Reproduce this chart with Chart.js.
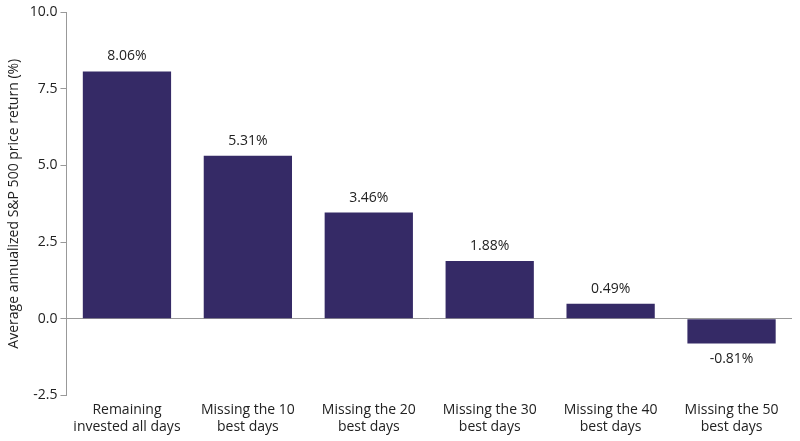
<!DOCTYPE html>
<html>
<head>
<script src="https://cdn.jsdelivr.net/npm/chart.js@4/dist/chart.umd.min.js"></script>
<style>
  body { margin: 0; background: #fff; }
  #wrap { width: 800px; height: 441px; }
</style>
</head>
<body>
<div id="wrap"><canvas id="returnsChart"></canvas></div>
<script>
const categories = [
  ["Remaining", "invested all days"],
  ["Missing the 10", "best days"],
  ["Missing the 20", "best days"],
  ["Missing the 30", "best days"],
  ["Missing the 40", "best days"],
  ["Missing the 50", "best days"],
];
const returns = [8.06, 5.31, 3.46, 1.88, 0.49, -0.81];
const barColor = "#352a66";

// draws value labels above (or below) each bar
const valueLabels = {
  id: "valueLabels",
  afterDatasetsDraw(chart) {
    const ctx = chart.ctx;
    const meta = chart.getDatasetMeta(0);
    ctx.save();
    ctx.font = "14px 'Open Sans', sans-serif";
    ctx.fillStyle = "#222";
    ctx.textAlign = "center";
    meta.data.forEach((bar, i) => {
      const v = returns[i];
      const txt = v.toFixed(2) + "%";
      if (v >= 0) {
        ctx.textBaseline = "bottom";
        ctx.fillText(txt, bar.x, bar.y - 8);
      } else {
        ctx.textBaseline = "top";
        ctx.fillText(txt, bar.x, bar.y + 8);
      }
    });
    ctx.restore();
  },
};

new Chart(document.getElementById("returnsChart"), {
  type: "bar",
  data: {
    labels: categories,
    datasets: [
      {
        data: returns,
        backgroundColor: barColor,
        categoryPercentage: 0.73,
        barPercentage: 1.0,
      },
    ],
  },
  options: {
    responsive: true,
    maintainAspectRatio: false,
    animation: false,
    layout: { padding: { top: 12, right: 8, left: 2, bottom: 0 } },
    plugins: { legend: { display: false }, tooltip: { enabled: false } },
    scales: {
      x: {
        grid: { display: false, drawTicks: false },
        border: { display: false },
        ticks: {
          color: "#222",
          font: { family: "'Open Sans', sans-serif", size: 14 },
          maxRotation: 0,
          padding: 6,
        },
      },
      y: {
        min: -2.5,
        max: 10,
        title: {
          display: true,
          text: "Average annualized S&P 500 price return (%)",
          color: "#222",
          font: { family: "'Open Sans', sans-serif", size: 14 },
        },
        grid: {
          color: (c) => (c.tick.value === 0 ? "#999" : "rgba(0,0,0,0)"),
          tickColor: "#999",
          tickLength: 6,
        },
        border: { display: true, color: "#999" },
        ticks: {
          stepSize: 2.5,
          color: "#222",
          font: { family: "'Open Sans', sans-serif", size: 14 },
          callback: (v) => v.toFixed(1),
        },
      },
    },
  },
  plugins: [valueLabels],
});
</script>
</body>
</html>
